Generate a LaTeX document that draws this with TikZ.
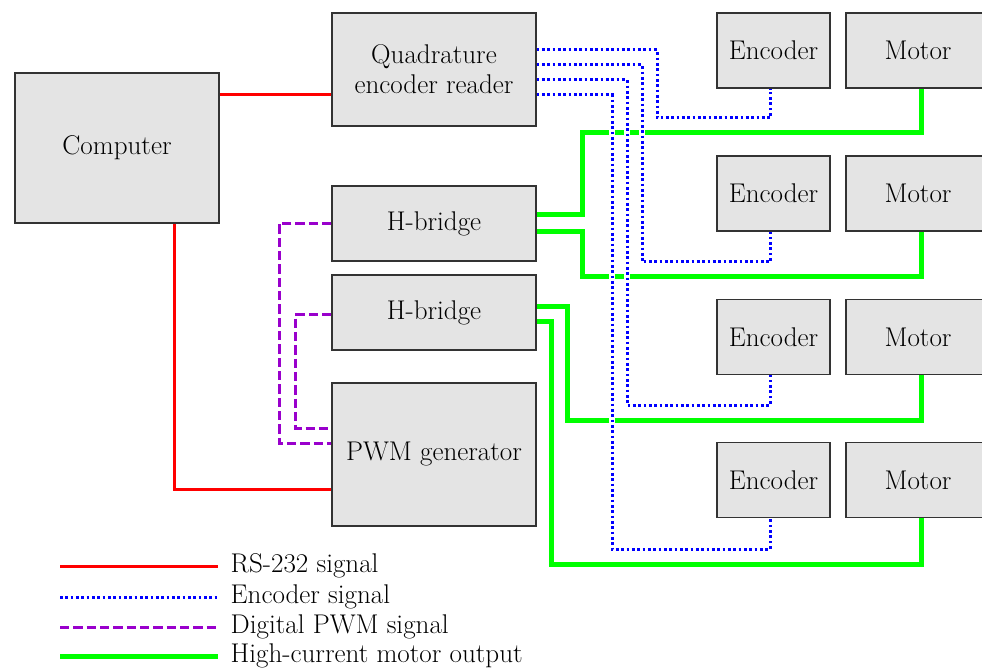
\documentclass[tikz,border=0pt]{standalone}
\usepackage{tikz}
\usetikzlibrary{shapes, arrows, positioning}
\definecolor{BoxGray}{HTML}{E4E4E4}
\definecolor{WirePurple}{HTML}{9900CC}

\begin{document}
\begin{tikzpicture}[x=0.75pt, y=-0.75pt,
    every node/.style={font=\fontsize{20.3}{22.5}\selectfont},
    box/.style={draw=black!80, fill=BoxGray, line width=0.9pt, inner sep=0pt, align=center},
    encbox/.style={box, minimum width=84.75pt, minimum height=56.25pt},
    motbox/.style={box, minimum width=108pt, minimum height=56.25pt},
    rsline/.style={red, line width=2.25pt},
    encline/.style={blue, line width=2.25pt, dash pattern=on 2pt off 2pt,
      preaction={draw=white, line width=5pt, solid}},
    pwmline/.style={WirePurple, line width=2.25pt, dash pattern=on 7pt off 3pt},
    motline/.style={green, line width=3.75pt}]
  \useasboundingbox (0,0) rectangle (982,670);
  % Blocks
  \node[box, minimum width=153pt, minimum height=112.5pt] (comp) at (117,148) {Computer};
  \node[box, minimum width=153pt, minimum height=84.75pt] (quad) at (434,69.5) {Quadrature\\encoder reader};
  \node[box, minimum width=153pt, minimum height=56.25pt] (hb1) at (434,223.5) {H-bridge};
  \node[box, minimum width=153pt, minimum height=56.25pt] (hb2) at (434,312.5) {H-bridge};
  \node[box, minimum width=153pt, minimum height=107.25pt] (pwm) at (434,454.5) {PWM generator};
  \node[encbox] (enc1) at (773.5,50.5) {Encoder};
  \node[encbox] (enc2) at (773.5,193.5) {Encoder};
  \node[encbox] (enc3) at (773.5,337) {Encoder};
  \node[encbox] (enc4) at (773.5,480) {Encoder};
  \node[motbox] (mot1) at (918,50.5) {Motor};
  \node[motbox] (mot2) at (918,193.5) {Motor};
  \node[motbox] (mot3) at (918,337) {Motor};
  \node[motbox] (mot4) at (918,480) {Motor};
  % RS-232
  \draw[rsline] (comp.east |- 0,95) -- (quad.west |- 0,95);
  \draw[rsline] (comp.south -| 174,0) |- (pwm.west |- 0,489);
  % PWM
  \draw[pwmline] (hb1.west) -| (279,443) -- (pwm.west |- 0,443);
  \draw[pwmline] (hb2.west |- 0,315) -| (295,428) -- (pwm.west |- 0,428);
  % Motor outputs
  \draw[motline] (hb1.east |- 0,215) -| (582,133) -| ([xshift=2.25pt]mot1.south);
  \draw[motline] (hb1.east |- 0,232) -| (582,277) -| ([xshift=2.25pt]mot2.south);
  \draw[motline] (hb2.east |- 0,307) -| (567,420) -| ([xshift=2.25pt]mot3.south);
  \draw[motline] (hb2.east |- 0,322) -| (551,564) -| ([xshift=2.25pt]mot4.south);
  % Encoders
  \draw[encline] (quad.east |- 0,50) -| (657,118) -| ([xshift=-2.5pt]enc1.south);
  \draw[encline] (quad.east |- 0,65) -| (642,262) -| ([xshift=-2.5pt]enc2.south);
  \draw[encline] (quad.east |- 0,80) -| (627,405) -| ([xshift=-2.5pt]enc3.south);
  \draw[encline] (quad.east |- 0,95) -| (612,549) -| ([xshift=-2.5pt]enc4.south);
  % Legend
  \coordinate (l1) at (60,566);
  \coordinate (l2) at (60,597);
  \coordinate (l3) at (60,627);
  \coordinate (l4) at (60,656);
  \node[anchor=west] (leg1) at (226,566) {RS-232 signal};
  \node[anchor=west] (leg2) at (226,597) {Encoder signal};
  \node[anchor=west] (leg3) at (226,627) {Digital PWM signal};
  \node[anchor=west] (leg4) at (226,656) {High-current motor output};
  \draw[rsline] (l1) -- (l1 -| 218,0);
  \draw[blue, line width=2.25pt, dash pattern=on 2pt off 2pt] (l2) -- (l2 -| 218,0);
  \draw[pwmline] (l3) -- (l3 -| 218,0);
  \draw[motline] (l4) -- (l4 -| 218,0);
\end{tikzpicture}
\end{document}
